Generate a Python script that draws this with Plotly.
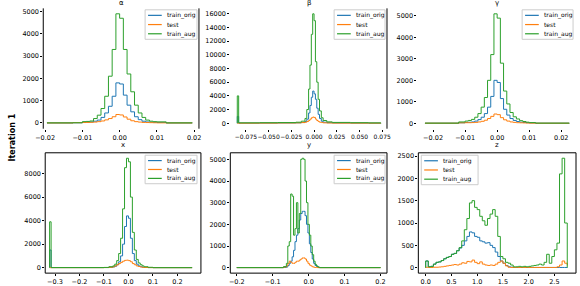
import plotly.graph_objects as go

W, H = 580, 286
series_names = ["train_orig", "test", "train_aug"]
colors = ["#1f77b4", "#ff7f0e", "#2ca02c"]
titles = ["α", "β", "γ", "x", "y", "z"]

# ---- alpha ----
alpha_edges = [-0.0195, -0.0125, -0.010, -0.009, -0.008, -0.007, -0.006, -0.005, -0.004, -0.003, -0.002, -0.001, 0.0,
               0.001, 0.002, 0.003, 0.004, 0.005, 0.006, 0.007, 0.008, 0.009, 0.010, 0.0125, 0.0195]
alpha_orig = [2, 10, 30, 35, 45, 80, 130, 250, 450, 750, 1200, 1800, 1750, 1250, 800, 500, 280, 150, 80, 45, 35, 30, 25, 2]
alpha_test = [2, 15, 20, 25, 30, 40, 60, 90, 140, 200, 280, 380, 360, 270, 170, 100, 60, 40, 25, 20, 15, 10, 5, 1]
alpha_aug = [5, 10, 60, 70, 90, 200, 350, 650, 1200, 2100, 3300, 4900, 4700, 3300, 2200, 1400, 800, 450, 250, 130, 80, 60, 50, 5]

# ---- beta ----
beta_edges = [-0.0845, -0.0830, -0.060, -0.040, -0.020, -0.014, -0.010, -0.008, -0.006, -0.0045, -0.003, -0.0015, 0.0,
              0.0015, 0.003, 0.0045, 0.006, 0.008, 0.010, 0.014, 0.020, 0.040, 0.060, 0.0735]
beta_orig = [1000, 20, 30, 40, 60, 100, 250, 600, 1500, 2600, 3800, 4700, 4300, 3500, 2200, 1300, 700, 300, 150, 80, 40, 30, 20]
beta_test = [0, 10, 20, 40, 60, 100, 150, 250, 400, 600, 800, 900, 850, 600, 400, 250, 150, 100, 60, 40, 20, 15, 10]
beta_aug = [4000, 60, 80, 100, 150, 300, 700, 2000, 5000, 8500, 13000, 16000, 15000, 9000, 6000, 3500, 1800, 800, 400, 200, 120, 80, 50]

# ---- gamma ----
gamma_edges = [-0.0225, -0.012, -0.010, -0.009, -0.008, -0.007, -0.006, -0.005, -0.004, -0.003, -0.002, -0.001, 0.0,
               0.001, 0.002, 0.003, 0.004, 0.005, 0.006, 0.007, 0.008, 0.009, 0.010, 0.012, 0.0225]
gamma_orig = [2, 20, 35, 45, 60, 100, 170, 280, 450, 750, 1250, 2000, 1900, 1150, 650, 380, 220, 130, 80, 50, 35, 25, 15, 2]
gamma_test = [2, 20, 25, 25, 30, 40, 60, 90, 140, 220, 320, 430, 400, 260, 160, 100, 60, 40, 25, 20, 15, 10, 5, 1]
gamma_aug = [5, 60, 100, 130, 180, 280, 450, 750, 1200, 2000, 3200, 5100, 4900, 2800, 1500, 900, 500, 300, 200, 120, 80, 50, 30, 5]

# ---- x ----
x_edges = [-0.322, -0.316, -0.10, -0.08, -0.064, -0.056, -0.048, -0.040, -0.032, -0.024, -0.016, -0.008, 0.0,
           0.008, 0.016, 0.024, 0.032, 0.040, 0.048, 0.056, 0.064, 0.08, 0.10, 0.26]
x_orig = [1500, 5, 10, 30, 60, 120, 250, 500, 1000, 2000, 3500, 4400, 4200, 2500, 1200, 600, 300, 150, 80, 40, 20, 10, 2]
x_test = [0, 2, 10, 30, 80, 150, 250, 350, 450, 550, 620, 640, 600, 500, 350, 250, 150, 100, 60, 30, 15, 5, 1]
x_aug = [3900, 10, 20, 80, 150, 300, 600, 1200, 2500, 5000, 8500, 9300, 9000, 6000, 3000, 1500, 700, 400, 250, 150, 80, 30, 5]

# ---- y ----
y_edges = [-0.2, -0.07, -0.062, -0.058, -0.054, -0.05, -0.046, -0.042, -0.038, -0.034, -0.030, -0.026, -0.022,
           -0.018, -0.014, -0.010, -0.006, -0.002, 0.002, 0.006, 0.010, 0.014, 0.018, 0.022, 0.026, 0.030, 0.2]
y_orig = [2, 10, 30, 100, 200, 300, 500, 800, 1200, 1500, 1800, 2200, 2500, 2600, 2600, 2400, 2000, 1600, 1100, 700, 400, 200, 100, 50, 20, 2]
y_test = [2, 30, 80, 200, 300, 250, 200, 200, 250, 300, 300, 350, 400, 450, 450, 400, 300, 200, 120, 80, 40, 20, 10, 5, 2, 1]
y_aug = [5, 50, 200, 1000, 1200, 3400, 3300, 1500, 1800, 3000, 1600, 2500, 5000, 5050, 5000, 4000, 3000, 2000, 1500, 1000, 600, 300, 150, 80, 30, 5]

# ---- z ----
z_edges = [0.00, 0.05, 0.10, 0.15, 0.20, 0.25, 0.30, 0.35, 0.40, 0.45, 0.50, 0.55, 0.60, 0.65, 0.70, 0.75, 0.80,
           0.85, 0.90, 0.95, 1.00, 1.05, 1.10, 1.15, 1.20, 1.25, 1.30, 1.35, 1.40, 1.45, 1.50, 1.55, 1.60, 1.65,
           1.70, 1.75, 1.80, 1.85, 1.90, 1.95, 2.00, 2.05, 2.10, 2.15, 2.20, 2.25, 2.30, 2.35, 2.40, 2.45, 2.50,
           2.55, 2.60, 2.65, 2.70, 2.75]
z_orig = [150, 20, 30, 80, 120, 130, 160, 200, 230, 250, 300, 320, 380, 440,
          500, 600, 700, 800, 780, 700, 680, 600, 580, 550, 560, 500, 450, 350, 250, 150, 100, 50, 20,
          10, 5, 5, 5, 5, 5, 5, 5, 5, 5, 5, 5, 5, 5, 5, 5, 5, 5, 5, 5, 5, 5]
z_test = [10, 5, 5, 10, 10, 15, 20, 30, 40, 50, 60, 70, 60, 80, 110, 100, 140, 130, 170, 120, 90, 130, 80,
          60, 50, 60, 50, 80, 120, 150, 100, 40, 10,
          5, 5, 5, 5, 5, 5, 5, 5, 5, 5, 5, 5, 5, 5, 5, 5, 5, 5,
          20, 60, 150, 100, 50]
z_aug = [150, 20, 30, 80, 120, 130, 160, 200, 230, 250, 300, 320, 380, 450, 600, 850, 1100, 1450, 1500, 1350,
         1300, 1150, 1050, 950, 1100, 1200, 1300, 1150, 700, 250, 200, 120, 100, 60, 20, 20, 30, 20, 30, 20,
         30, 40, 50, 60, 80, 60, 120, 300, 100, 250, 400, 550, 2100, 2450, 1000]

# tick values per panel
alpha_ticks = [-0.02, -0.01, 0.0, 0.01, 0.02]
beta_ticks = [-0.075, -0.05, -0.025, 0.0, 0.025, 0.05, 0.075]
gamma_ticks = [-0.02, -0.01, 0.0, 0.01, 0.02]
x_ticks = [-0.3, -0.2, -0.1, 0.0, 0.1, 0.2]
y_ticks = [-0.2, -0.1, 0.0, 0.1, 0.2]
z_ticks = [0.0, 0.5, 1.0, 1.5, 2.0, 2.5]

panels = [
    dict(edges=alpha_edges, data=[alpha_orig, alpha_test, alpha_aug], xt=alpha_ticks, fmt=".2f",
         px=(36, 195), xr=(-0.0205, 0.0213), yr=(-257, 5145), yt=list(range(0, 5001, 1000)),
         row=0, leg=(140, 193, 10, 40), spines=("l", "r")),
    dict(edges=beta_edges, data=[beta_orig, beta_test, beta_aug], xt=beta_ticks, fmt=".3f",
         px=(227, 387), xr=(-0.0922, 0.0803), yr=(-800, 16800), yt=list(range(0, 16001, 2000)),
         row=0, leg=(333, 385, 10, 40), spines=("r",)),
    dict(edges=gamma_edges, data=[gamma_orig, gamma_test, gamma_aug], xt=gamma_ticks, fmt=".2f",
         px=(418, 580), xr=(-0.0249, 0.0246), yr=(-255, 5355), yt=list(range(0, 5001, 1000)),
         row=0, leg=(525, 577, 10, 40), spines=()),
    dict(edges=x_edges, data=[x_orig, x_test, x_aug], xt=x_ticks, fmt=".1f",
         px=(38, 197), xr=(-0.34, 0.296), yr=(-465, 9765), yt=list(range(0, 8001, 2000)),
         row=1, leg=(140, 193, 158, 187), spines=("l", "r", "t", "b")),
    dict(edges=y_edges, data=[y_orig, y_test, y_aug], xt=y_ticks, fmt=".1f",
         px=(227, 387), xr=(-0.218, 0.218), yr=(-252, 5302), yt=list(range(0, 5001, 1000)),
         row=1, leg=(333, 385, 158, 187), spines=("l", "r", "t", "b")),
    dict(edges=z_edges, data=[z_orig, z_test, z_aug], xt=z_ticks, fmt=".1f",
         px=(419, 580), xr=(-0.143, 2.92), yr=(-122, 2572), yt=list(range(0, 2501, 500)),
         row=1, leg=(422, 480, 158, 188), spines=("l", "r", "t", "b")),
]

row_px = [(8.5, 131), (155.5, 278)]
title_px = [3.5, 148]

FONT = "DejaVu Sans"
fig = go.Figure()
layout = dict(width=W, height=H, margin=dict(l=0, r=0, t=0, b=0), showlegend=False,
              paper_bgcolor="white", plot_bgcolor="white",
              font=dict(family=FONT, size=6.5, color="black"))
shapes = []
annotations = []


def px_x(v):
    return v / W


def px_y(v):
    return 1 - v / H


for i, p in enumerate(panels):
    k = "" if i == 0 else str(i + 1)
    xa, ya = "x" + k, "y" + k
    top, bot = row_px[p["row"]]
    for name, col, counts in zip(series_names, colors, p["data"]):
        e = p["edges"]
        xs = [e[0]] + list(e[:-1]) + [e[-1], e[-1]]
        ys = [0] + list(counts) + [counts[-1], 0]
        fig.add_trace(go.Scatter(x=xs, y=ys, mode="lines", line=dict(color=col, width=1, shape="hv"),
                                 name=name, xaxis=xa, yaxis=ya, hoverinfo="skip"))
    layout["xaxis" + k] = dict(domain=[p["px"][0] / W, p["px"][1] / W], range=list(p["xr"]), anchor=ya,
                               tickvals=p["xt"], tickformat=p["fmt"], ticks="outside", ticklen=2,
                               tickwidth=0.8, tickcolor="black", showgrid=False, zeroline=False,
                               showline=False, tickangle=0,
                               tickfont=dict(size=6 if i == 1 else 6.5, family=FONT))
    layout["yaxis" + k] = dict(domain=[1 - bot / H, 1 - top / H], range=list(p["yr"]), anchor=xa,
                               tickvals=p["yt"], tickformat="d", ticks="outside", ticklen=2, tickwidth=0.8,
                               tickcolor="black", showgrid=False, zeroline=False, showline=False,
                               tickfont=dict(size=6.5, family=FONT))
    # spines
    for s in p["spines"]:
        if s == "l":
            x0 = x1 = 0; y0, y1 = 0, 1
        elif s == "r":
            x0 = x1 = 1; y0, y1 = 0, 1
        elif s == "t":
            y0 = y1 = 1; x0, x1 = 0, 1
        else:
            y0 = y1 = 0; x0, x1 = 0, 1
        shapes.append(dict(type="line", xref=xa + " domain", yref=ya + " domain", x0=x0, x1=x1, y0=y0, y1=y1,
                           line=dict(color="black", width=1)))
    # legend box (drawn like matplotlib's)
    lx0, lx1, ly0, ly1 = p["leg"]
    shapes.append(dict(type="rect", xref="paper", yref="paper", x0=px_x(lx0), x1=px_x(lx1),
                       y0=px_y(ly1), y1=px_y(ly0), fillcolor="rgba(255,255,255,0.8)",
                       line=dict(color="#cccccc", width=1)))
    step = (ly1 - ly0) / 3.2
    for j, (name, col) in enumerate(zip(series_names, colors)):
        cy = ly0 + step * (0.6 + j)
        shapes.append(dict(type="line", xref="paper", yref="paper", x0=px_x(lx0 + 3), x1=px_x(lx0 + 17),
                           y0=px_y(cy), y1=px_y(cy), line=dict(color=col, width=1.2)))
        annotations.append(dict(text=name, xref="paper", yref="paper", showarrow=False,
                                x=px_x(lx0 + 20), y=px_y(cy), xanchor="left", yanchor="middle",
                                font=dict(size=6, family=FONT, color="black")))
    annotations.append(dict(text=titles[i], xref="paper", yref="paper", showarrow=False,
                            x=(p["px"][0] + p["px"][1]) / 2 / W if i != 2 else 499.5 / W,
                            y=1 - title_px[p["row"]] / H, xanchor="center", yanchor="middle",
                            font=dict(size=7, family=FONT)))

annotations.append(dict(text="<b>Iteration 1</b>", xref="paper", yref="paper", showarrow=False,
                        x=5 / W, y=1 - 140 / H, xanchor="center", yanchor="middle", textangle=-90,
                        font=dict(size=8, family=FONT)))

layout["shapes"] = shapes
layout["annotations"] = annotations
fig.update_layout(**layout)
fig.write_html("out.html", config={"displayModeBar": False},
               post_script="document.body.style.margin='0';document.body.style.overflow='hidden';")
